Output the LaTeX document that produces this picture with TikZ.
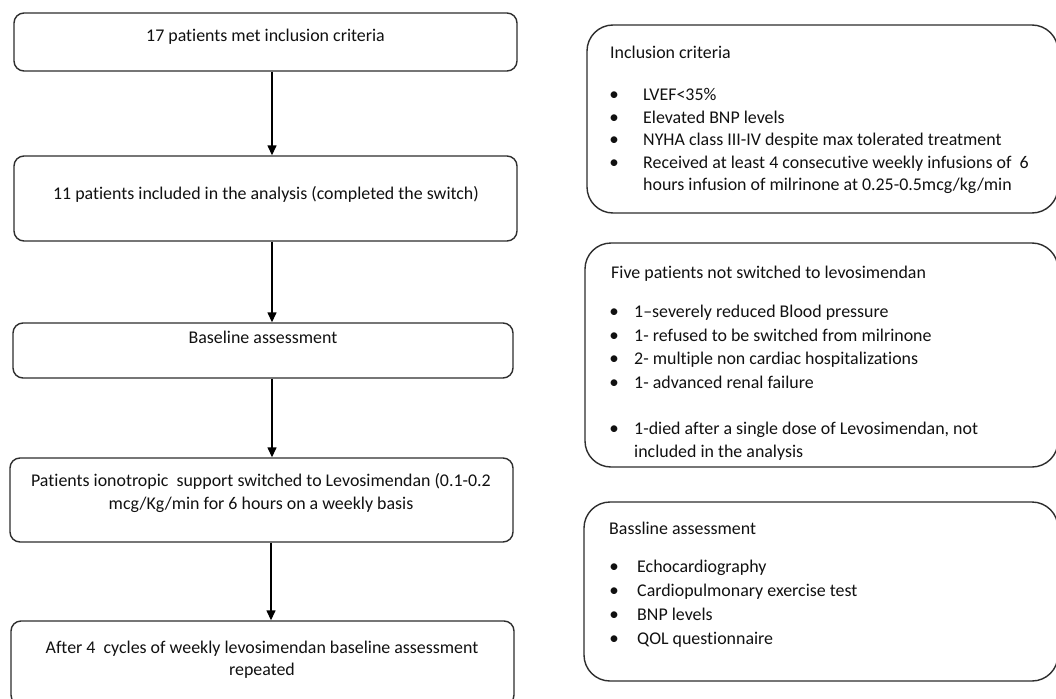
\documentclass[tikz,border=0pt]{standalone}
\usepackage{fontspec}
\setmainfont[Ligatures={TeX,NoCommon}]{Carlito}
\usetikzlibrary{arrows.meta}
\definecolor{ink}{HTML}{111111}
\definecolor{edge}{HTML}{2E2E2E}
\begin{document}
\begin{tikzpicture}[x=1pt,y=-1pt,
  flowbox/.style={draw=edge, line width=1.4pt, rounded corners=10pt, inner sep=0pt},
  infobox/.style={draw=edge, line width=1.4pt, rounded corners=26pt, inner sep=0pt},
  ctext/.style={anchor=base, inner sep=0pt, text=ink, font=\fontsize{17.9}{22}\selectfont},
  ltext/.style={anchor=base west, inner sep=0pt, text=ink, font=\fontsize{17.9}{22}\selectfont},
  bul/.style={anchor=base, inner sep=0pt, text=ink, font=\fontsize{19}{22}\selectfont},
  arr/.style={draw=black, line width=1.4pt, -{Triangle[length=10pt,width=9pt]}}
]
\clip (0,0) rectangle (1056,698);
\fill[white] (0,0) rectangle (1056,698);

% left flow boxes
\node[flowbox, minimum width=503pt, minimum height=58pt] (b1) at (265.5,42) {};
\node[flowbox, minimum width=503pt, minimum height=85pt] (b2) at (265.5,198.5) {};
\node[flowbox, minimum width=500pt, minimum height=55pt] (b3) at (263,350.5) {};
\node[flowbox, minimum width=503pt, minimum height=84pt] (b4) at (261.5,500) {};
\node[flowbox, minimum width=503pt, minimum height=84pt] (b5) at (262.5,663) {};

\node[ctext] (t1) at (265.5,42) {17 patients met inclusion criteria};
\node[ctext] (t2) at (266,199) {11 patients included in the analysis (completed the switch)};
\node[ctext] (t3) at (263,343) {Baseline assessment};
\node[ctext] (t4a) at (261,486) {Patients ionotropic\ \ support switched to Levosimendan (0.1-0.2};
\node[ctext] (t4b) at (261,509) {mcg/Kg/min for 6 hours on a weekly basis};
\node[ctext] (t5a) at (262,653) {After 4\ \ cycles of weekly levosimendan baseline assessment};
\node[ctext] (t5b) at (262,675) {repeated};

% arrows
\coordinate (ax) at (272,0);
\coordinate (ax2) at (271,0);
\draw[arr] (b1.south -| ax) -- (b2.north -| ax);
\draw[arr] (b2.south -| ax) -- (b3.north -| ax);
\draw[arr] (b3.south -| ax) -- (b4.north -| ax);
\draw[arr] (b4.south -| ax2) -- (b5.north -| ax2);

% right info boxes
\node[infobox, minimum width=471pt, minimum height=188pt] (r1) at (822.5,119) {};
\node[infobox, minimum width=473pt, minimum height=224pt] (r2) at (821.5,355) {};
\node[infobox, minimum width=474pt, minimum height=179pt] (r3) at (821,591.5) {};

% R1 text
\node[ltext] (r1h) at (610,59) {Inclusion criteria};
\node[bul] (r1b1) at (614,100) {•};
\node[bul] (r1b2) at (614,123) {•};
\node[bul] (r1b3) at (614,145) {•};
\node[bul] (r1b4) at (614,168) {•};
\node[ltext] (r1l1) at (643,100) {LVEF<35\%};
\node[ltext] (r1l2) at (643,123) {Elevated BNP levels};
\node[ltext] (r1l3) at (643,145) {NYHA class III-IV despite max tolerated treatment};
\node[ltext] (r1l4) at (643,168) {Received at least 4 consecutive weekly infusions of \ 6};
\node[ltext] (r1l5) at (643,190) {hours infusion of milrinone at 0.25-0.5mcg/kg/min};

% R2 text
\node[ltext] (r2h) at (611,278) {Five patients not switched to levosimendan};
\node[bul] (r2b1) at (614,317) {•};
\node[bul] (r2b2) at (614,341) {•};
\node[bul] (r2b3) at (614,364) {•};
\node[bul] (r2b4) at (614,388) {•};
\node[bul] (r2b5) at (614,434) {•};
\node[ltext] (r2l1) at (634,317) {1–severely reduced Blood pressure};
\node[ltext] (r2l2) at (634,341) {1- refused to be switched from milrinone};
\node[ltext] (r2l3) at (634,364) {2- multiple non cardiac hospitalizations};
\node[ltext] (r2l4) at (634,388) {1- advanced renal failure};
\node[ltext] (r2l5) at (634,434) {1-died after a single dose of Levosimendan, not};
\node[ltext] (r2l6) at (634,457) {included in the analysis};

% R3 text
\node[ltext] (r3h) at (609,534) {Bassline assessment};
\node[bul] (r3b1) at (614,572) {•};
\node[bul] (r3b2) at (614,596) {•};
\node[bul] (r3b3) at (614,620) {•};
\node[bul] (r3b4) at (614,644) {•};
\node[ltext] (r3l1) at (637,572) {Echocardiography};
\node[ltext] (r3l2) at (637,596) {Cardiopulmonary exercise test};
\node[ltext] (r3l3) at (637,620) {BNP levels};
\node[ltext] (r3l4) at (637,644) {QOL questionnaire};
\end{tikzpicture}
\end{document}
